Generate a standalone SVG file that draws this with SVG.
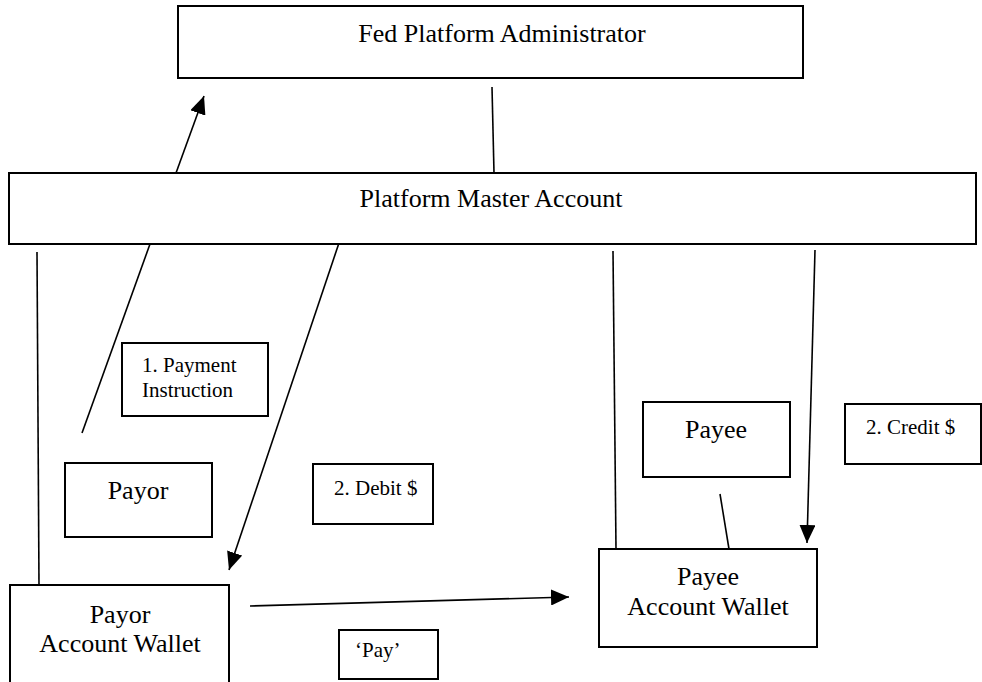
<svg xmlns="http://www.w3.org/2000/svg" width="982" height="682" viewBox="0 0 982 682">
<defs>
<marker id="ah" markerUnits="userSpaceOnUse" markerWidth="18" markerHeight="16" viewBox="0 0 18 16" refX="18" refY="8" orient="auto">
<path d="M0,0 L18,8 L0,16 Z" fill="#000"/>
</marker>
</defs>
<style>
.box{fill:#fff;stroke:#000;stroke-width:2}
.t{font-family:"Liberation Serif","Times New Roman",serif;fill:#000}
.big{font-size:26px}
.sm{font-size:21px}
.c{text-anchor:middle}
.ln{stroke:#000;stroke-width:1.6;fill:none}
</style>
<rect width="982" height="682" fill="#fff"/>
<g id="connectors">
<line class="ln" x1="492" y1="87" x2="494" y2="173"/>
<line class="ln" x1="176" y1="173" x2="204" y2="96" marker-end="url(#ah)"/>
<line class="ln" x1="150" y1="244" x2="82" y2="433"/>
<line class="ln" x1="341" y1="237" x2="229" y2="570" marker-end="url(#ah)"/>
<line class="ln" x1="37" y1="252" x2="39" y2="585"/>
<line class="ln" x1="613" y1="251" x2="616" y2="549"/>
<line class="ln" x1="815" y1="250" x2="807" y2="543" marker-end="url(#ah)"/>
<line class="ln" x1="720" y1="494" x2="729" y2="549"/>
<line class="ln" x1="250" y1="606" x2="569" y2="597" marker-end="url(#ah)"/>
</g>
<g id="fed">
<rect class="box" x="178" y="6" width="625" height="72"/>
<text class="t big c" x="502" y="42">Fed Platform Administrator</text>
</g>
<g id="master">
<rect class="box" x="9" y="173" width="967" height="71"/>
<text class="t big c" x="491" y="207">Platform Master Account</text>
</g>
<g id="instruction">
<rect class="box" x="122" y="343" width="146" height="73"/>
<text class="t sm" x="142" y="372">1. Payment</text>
<text class="t sm" x="142" y="397">Instruction</text>
</g>
<g id="payor">
<rect class="box" x="65" y="463" width="147" height="74"/>
<text class="t big c" x="138" y="499">Payor</text>
</g>
<g id="debit">
<rect class="box" x="313" y="464" width="120" height="60"/>
<text class="t sm" x="334" y="495">2. Debit $</text>
</g>
<g id="payee">
<rect class="box" x="643" y="402" width="147" height="75"/>
<text class="t big c" x="716" y="438">Payee</text>
</g>
<g id="credit">
<rect class="box" x="845" y="404" width="136" height="60"/>
<text class="t sm" x="866" y="434">2. Credit $</text>
</g>
<g id="payorWallet">
<rect class="box" x="10" y="585" width="219" height="110"/>
<text class="t big c" x="120" y="623">Payor</text>
<text class="t big c" x="120" y="652">Account Wallet</text>
</g>
<g id="payeeWallet">
<rect class="box" x="599" y="549" width="218" height="98"/>
<text class="t big c" x="708" y="585">Payee</text>
<text class="t big c" x="708" y="615">Account Wallet</text>
</g>
<g id="pay">
<rect class="box" x="339" y="630" width="99" height="49"/>
<text class="t sm" x="355" y="657">‘Pay’</text>
</g>
</svg>
